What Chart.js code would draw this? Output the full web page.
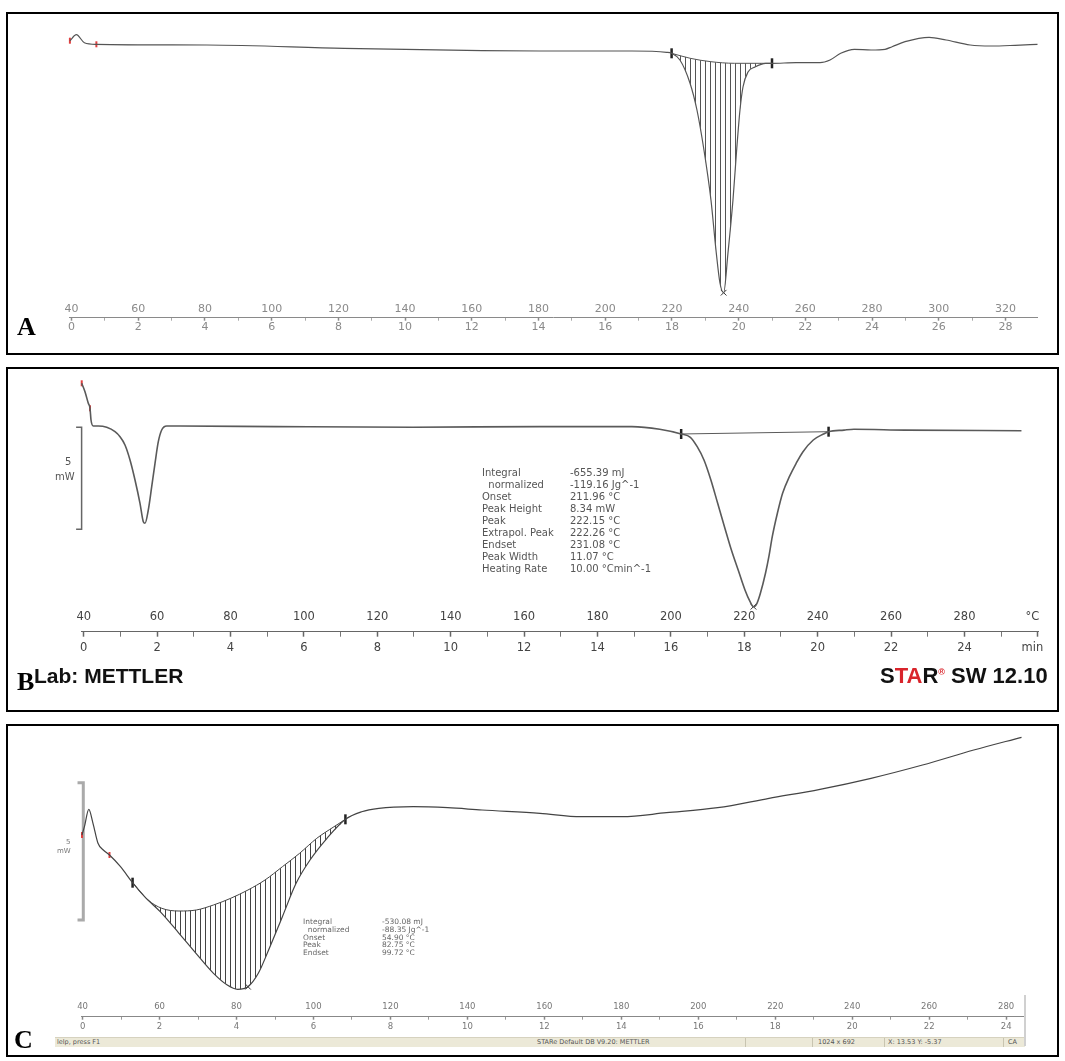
<!DOCTYPE html>
<html>
<head>
<meta charset="utf-8">
<script src="https://cdn.jsdelivr.net/npm/chart.js@4.4.1/dist/chart.umd.min.js"></script>
<style>
  body { margin: 0; background: #fff; }
  #page { position: relative; width: 1065px; height: 1061px; overflow: hidden; font-family: "DejaVu Sans", sans-serif; }
  .box { position: absolute; border: 2px solid #000; box-sizing: border-box; }
  canvas { position: absolute; left: 0; }
  .t { position: absolute; white-space: pre; }
  .letter { font-family: "Liberation Serif", serif; font-weight: bold; font-size: 26px; line-height: 26px; color: #000; }
  .tblB { font-size: 10px; line-height: 12px; color: #555; }
  .tblC { font-size: 7.5px; line-height: 7.8px; color: #666; }
  .status { position: absolute; left: 55px; top: 1037px; width: 970px; height: 9px; background: #ece9d8; border-top: 1px solid #d6d2bf; }
  .status span { position: absolute; top: 0; font-size: 6.5px; line-height: 9px; color: #555; white-space: pre; }
  .status i { position: absolute; top: 0; width: 1px; height: 9px; background: #c8c4b0; }
</style>
</head>
<body>
<div id="page">
  <div class="box" style="left:6px;top:12px;width:1053px;height:343px"></div>
  <div class="box" style="left:6px;top:367px;width:1053px;height:345px"></div>
  <div class="box" style="left:6px;top:724px;width:1053px;height:333px"></div>

  <canvas id="chartA" width="1065" height="340" style="top:14px"></canvas>
  <canvas id="chartB" width="1065" height="336" style="top:372px"></canvas>
  <canvas id="chartC" width="1065" height="326" style="top:727px"></canvas>

  <div class="t letter" style="left:17px;top:314px">A</div>
  <div class="t letter" style="left:17px;top:669px">B</div>
  <div class="t letter" style="left:14px;top:1027px">C</div>

  <!-- panel B texts -->
  <div class="t" style="left:34px;top:664px;font:bold 21px 'Liberation Sans';color:#111">Lab: METTLER</div>
  <div class="t" style="left:880px;top:663px;font:bold 22px 'Liberation Sans';color:#111">S<span style="color:#d9242b">TA</span>R<sup style="color:#d9242b;font-size:9px">®</sup> SW 12.10</div>
  <div class="t" style="left:65px;top:456px;font-size:10px;color:#555">5</div>
  <div class="t" style="left:55px;top:471px;font-size:10px;color:#555">mW</div>
  <div class="t tblB" style="left:482px;top:467px">Integral
  normalized
Onset
Peak Height
Peak
Extrapol. Peak
Endset
Peak Width
Heating Rate</div>
  <div class="t tblB" style="left:570px;top:467px">-655.39 mJ
-119.16 Jg^-1
211.96 °C
8.34 mW
222.15 °C
222.26 °C
231.08 °C
11.07 °C
10.00 °Cmin^-1</div>

  <!-- panel C texts -->
  <div class="t" style="left:66px;top:838px;font-size:7px;color:#777">5</div>
  <div class="t" style="left:57px;top:847px;font-size:7px;color:#777">mW</div>
  <div class="t tblC" style="left:303px;top:918px">Integral
  normalized
Onset
Peak
Endset</div>
  <div class="t tblC" style="left:382px;top:918px">-530.08 mJ
-88.35 Jg^-1
54.90 °C
82.75 °C
99.72 °C</div>
  <div class="status">
    <span style="left:2px">lelp, press F1</span>
    <span style="left:482px">STARe Default DB V9.20: METTLER</span>
    <i style="left:690px"></i>
    <i style="left:757px"></i>
    <span style="left:763px">1024 x 692</span>
    <i style="left:829px"></i>
    <span style="left:833px">X: 13.53 Y: -5.37</span>
    <i style="left:948px"></i>
    <span style="left:953px">CA</span>
  </div>
  <div style="position:absolute;left:1024px;top:995px;width:2px;height:51px;background:#d0d0d0"></div>
</div>

<script>
// ---- panel A : temperature (°C) / heat flow (arbitrary mW offset)
const tempA = [39.5, 41.44, 43.84, 47.44, 80.48, 121.7, 163.1, 180.5, 208.0, 218.4, 219.9, 222.4, 225.4, 227.5, 229.6,
  231.7, 233.2, 234.4, 235.5, 236.8, 238.3, 239.4, 240.4, 241.3, 242.8, 244.9, 248.1, 250.0, 257.2, 264.4, 267.4,
  270.6, 274.7, 279.7, 283.9, 286.0, 289.9, 297.1, 302.2, 309.4, 315.7, 322.9, 329.6];
const flowA = [26.02, 26.62, 25.82, 25.66, 25.59, 25.26, 25.02, 24.99, 24.99, 24.86, 24.76, 24.09, 21.79, 19.09, 15.09,
  10.09, 5.09, 1.79, 0.82, 4.79, 10.09, 15.09, 19.09, 21.39, 22.89, 23.39, 23.76, 23.76, 23.82, 23.82, 24.09,
  24.76, 25.16, 25.09, 25.16, 25.42, 25.92, 26.36, 26.09, 25.59, 25.49, 25.56, 25.66];
const baseTempA = [219.9, 225.5, 231.7, 238.8, 250.0];
const baseFlowA = [24.76, 24.26, 23.92, 23.76, 23.76];
const redTempA = [39.5, 47.44];
const peakA = [235.5];

// ---- panel B
const tempB = [39.46, 40.35, 41.25, 41.72, 41.99, 42.62, 43.98, 46.27, 48.53, 49.89, 51.25, 52.62, 53.98, 55.34, 56.24,
  56.70, 57.60, 58.53, 59.43, 60.33, 61.25, 62.62, 66.24, 92.26, 129.73, 164.33, 189.40, 196.95,
  202.80, 205.31, 207.17, 209.02, 210.90, 212.75, 214.60, 216.49, 218.34, 220.19, 221.58, 222.50,
  223.46, 224.39, 225.78, 226.70, 227.63, 229.02, 230.44, 232.29, 234.14, 236.0, 238.80, 241.58, 242.97,
  247.17, 249.89, 263.79, 295.53];
const flowB = [2.093, 1.681, 1.113, 0.868, 0.294, 0.0, 0.0, -0.064, -0.279, -0.525, -0.931, -1.667, -2.647, -3.789, -4.691,
  -4.770, -4.118, -2.975, -1.828, -0.770, -0.196, 0.0, 0.0, -0.03, -0.06, -0.03, -0.03, -0.16,
  -0.392, -0.554, -1.015, -1.667, -2.647, -3.789, -4.936, -6.078, -7.059, -8.039, -8.613, -8.858,
  -8.691, -8.201, -7.221, -6.407, -5.426, -4.279, -3.299, -2.485, -1.828, -1.260, -0.686, -0.392, -0.279,
  -0.20, -0.16, -0.20, -0.23];
const baseTempB = [202.80, 242.97];
const baseFlowB = [-0.392, -0.279];
const redTempB = [39.46, 41.72];
const peakB = [222.50];

// ---- panel C
const tempC = [39.84, 40.47, 41.61, 42.70, 44.0, 45.38, 46.99, 49.85, 52.99, 56.11, 60.58, 65.05, 69.47, 74.02, 77.60,
  80.28, 82.98, 85.66, 88.34, 91.92, 95.48, 99.10, 103.51, 108.30, 112.51, 116.98, 125.91, 134.88, 143.79, 158.87,
  169.52, 180.18, 191.74, 205.05, 218.38, 231.63, 244.89, 258.27, 271.58, 284.0];
const flowC = [-0.546, -0.244, 0.390, -0.120, -0.849, -1.093, -1.275, -1.701, -2.283, -2.793, -3.398, -4.126, -4.854, -5.583, -6.009,
  -6.165, -6.071, -5.583, -4.734, -3.521, -2.305, -1.457, -0.666, 0.025, 0.302, 0.426, 0.484, 0.448, 0.364, 0.244,
  0.120, 0.120, 0.266, 0.448, 0.790, 1.118, 1.519, 2.003, 2.549, 3.012];
const baseTempC = [52.99, 57.0, 60.58, 65.05, 69.55, 74.02, 78.49, 82.98, 87.40, 91.92, 96.39, 100.86, 105.33, 108.30];
const baseFlowC = [-2.283, -2.913, -3.216, -3.314, -3.277, -3.095, -2.851, -2.549, -2.185, -1.701, -1.213, -0.666, -0.244, 0.025];
const redTempC = [39.84, 46.99];
const peakC = [82.98];

// 5 mW scale bars (x position in °C, top in mW)
const scaleBarB = { x: 39.43, top: -0.06, mw: 5 };
const scaleBarC = { x: 40.18, top: 1.358, mw: 5 };

const pts = (xs, ys) => xs.map((x, i) => ({ x, y: ys[i] }));
const onCurve = (xs, temps, flows) => xs.map(x => ({ x, y: flows[temps.indexOf(x)] }));

function hatch(step, color) {
  const c = document.createElement('canvas');
  c.width = step; c.height = 4;
  const g = c.getContext('2d');
  g.fillStyle = color;
  g.fillRect(0, 0, 1, 4);
  return g.createPattern(c, 'repeat');
}

function dsc(id, o) {
  const curve = pts(o.temp, o.flow);
  const base = pts(o.baseTemp, o.baseFlow);
  const ds = [
    { data: curve, borderColor: o.lineColor, borderWidth: o.lineWidth, cubicInterpolationMode: 'monotone', pointRadius: 0, clip: false },
    { data: base, borderColor: o.lineColor, borderWidth: 1, cubicInterpolationMode: 'monotone', pointRadius: 0, clip: false },
  ];
  if (o.hatch) {
    const lo = o.baseTemp[0], hi = o.baseTemp[o.baseTemp.length - 1];
    ds.push({ data: curve.filter(p => p.x >= lo && p.x <= hi), borderWidth: 0, pointRadius: 0,
      cubicInterpolationMode: 'monotone', fill: 1, backgroundColor: o.hatch, clip: false });
  }
  ds.push({ data: onCurve(o.redTemp, o.temp, o.flow), showLine: false, pointStyle: 'line', rotation: 90,
    radius: 3, borderColor: '#e04040', borderWidth: 2, clip: false });
  ds.push({ data: [base[0], base[base.length - 1]], showLine: false, pointStyle: 'line', rotation: 90,
    radius: 5, borderColor: '#222', borderWidth: 2.5, clip: false });
  ds.push({ data: onCurve(o.peak, o.temp, o.flow), showLine: false, pointStyle: 'crossRot',
    radius: 4, borderColor: '#333', borderWidth: 1, clip: false });
  if (o.bar) {
    const b = o.bar, l = b.x - 1.5;
    ds.push({ data: [{ x: l, y: b.top }, { x: b.x, y: b.top }, { x: b.x, y: b.top - b.mw }, { x: l, y: b.top - b.mw }],
      borderColor: o.barColor, borderWidth: o.barWidth, tension: 0, pointRadius: 0, clip: false });
  }

  new Chart(document.getElementById(id), {
    type: 'line',
    data: { datasets: ds },
    options: {
      responsive: false, animation: false, events: [],
      layout: { padding: o.pad },
      plugins: { legend: { display: false }, tooltip: { enabled: false } },
      scales: {
        x: {
          type: 'linear', position: 'bottom', weight: 0, min: o.tMin, max: o.tMax,
          grid: { display: false, drawTicks: false }, border: { display: false },
          ticks: {
            stepSize: 20, includeBounds: false, autoSkip: false, maxRotation: 0, minRotation: 0, padding: 0,
            color: o.labelColor, font: { family: 'DejaVu Sans', size: o.fontSize, lineHeight: o.tempLine },
            callback: v => (o.units && v === 300) ? '°C   ' : String(v)
          }
        },
        xm: {
          type: 'linear', position: 'bottom', weight: 1, min: (o.tMin - 40) / 10, max: (o.tMax - 40) / 10,
          grid: {
            display: true, drawOnChartArea: false, tickLength: o.tickLen,
            tickColor: ctx => (Math.round(ctx.tick.value) % 2 === 0 ? o.axisColor : o.minorColor),
            tickWidth: ctx => (Math.round(ctx.tick.value) % 2 === 0 ? 1.5 : 1)
          },
          border: { display: true, color: o.axisColor, width: 1 },
          ticks: {
            stepSize: 1, includeBounds: false, autoSkip: false, maxRotation: 0, minRotation: 0, padding: o.minPad,
            color: o.labelColor, font: { family: 'DejaVu Sans', size: o.fontSize, lineHeight: o.minLine },
            callback: v => {
              const m = Math.round(v);
              if (m % 2 !== 0) return '';
              return (o.units && m === 26) ? 'min   ' : String(m);
            }
          }
        },
        y: { display: false, min: o.yMin, max: o.yMax }
      }
    }
  });
}

dsc('chartA', {
  temp: tempA, flow: flowA, baseTemp: baseTempA, baseFlow: baseFlowA, redTemp: redTempA, peak: peakA,
  hatch: hatch(5, '#555'), lineColor: '#555', lineWidth: 1.2,
  tMin: 39.5, tMax: 329.6, yMin: 0, yMax: 27.09,
  pad: { top: 16, left: 69.9, right: 27.5, bottom: 21.3 },
  fontSize: 11, tempLine: 16.8 / 11, minLine: 1, tickLen: 3, minPad: 0.5,
  labelColor: '#8a8a8a', axisColor: '#8a8a8a', minorColor: '#aaa'
});

dsc('chartB', {
  temp: tempB, flow: flowB, baseTemp: baseTempB, baseFlow: baseFlowB, redTemp: redTempB, peak: peakB,
  lineColor: '#5a5a5a', lineWidth: 1.6, units: true,
  bar: scaleBarB, barColor: '#666', barWidth: 1.5,
  tMin: 39.5, tMax: 300.2, yMin: -8.672, yMax: 2.255,
  pad: { top: 8, left: 81.87, right: 26.4, bottom: 48.1 },
  fontSize: 11.5, tempLine: 28.8 / 11.5, minLine: 13.2 / 11.5, tickLen: 5, minPad: 5,
  labelColor: '#444', axisColor: '#666', minorColor: '#777'
});

dsc('chartC', {
  temp: tempC, flow: flowC, baseTemp: baseTempC, baseFlow: baseFlowC, redTemp: redTempC, peak: peakC,
  hatch: hatch(5, '#444'), lineColor: '#444', lineWidth: 1.2,
  bar: scaleBarC, barColor: '#aaa', barWidth: 3,
  tMin: 39.6, tMax: 284.8, yMin: -6.435, yMax: 3.023,
  pad: { top: 10, left: 81.06, right: 40.4, bottom: 19.7 },
  fontSize: 8.5, tempLine: 20 / 8.5, minLine: 9.6 / 8.5, tickLen: 3, minPad: 2,
  labelColor: '#777', axisColor: '#888', minorColor: '#999'
});
</script>
</body>
</html>
